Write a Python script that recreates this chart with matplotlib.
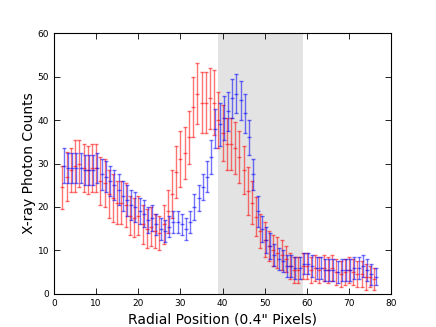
import numpy as np
import matplotlib
matplotlib.use('Agg')
import matplotlib.pyplot as plt

# radial bins (0.4" pixels)
radius = np.arange(2, 77)

red_counts = [24.5, 27, 28.5, 29.5, 30, 29, 28.5, 29, 29, 26, 25.5, 23, 22, 21, 21, 20.5,
              18, 17.5, 18, 16, 15, 15.5, 14.5, 14, 16, 19, 23, 28, 31, 32.5, 36, 43,
              46, 44, 44, 45, 44, 40, 37, 34.5, 34.5, 33.5, 31.5, 28.5, 23.7, 21, 17.8,
              14.5, 12.5, 11, 10, 9.5, 9, 8, 6.5, 5.5, 5.5, 6.5, 6.5, 5.5, 6, 5.5, 6,
              5.5, 6, 5, 4.5, 5, 5.5, 5, 4.5, 4.5, 4, 4, 3.5]
red_err = [5, 5.7, 5, 6, 5.5, 5.5, 5.5, 5.5, 5.5, 5.5, 5.5, 5.5, 5.5, 5, 5, 5,
           4.5, 4.5, 4.5, 4.5, 4.5, 4.5, 4, 4, 4.5, 5, 5.5, 6, 6.5, 6, 6, 7,
           7, 7, 7, 7, 7.5, 6.5, 6.5, 6, 6, 6, 6, 5.5, 5.5, 5, 4.5,
           4, 4, 3.5, 3.5, 3.5, 3.5, 3, 3, 3, 3, 3, 3, 3, 3, 3, 3,
           3, 3, 3, 3, 3, 3, 3, 3, 3, 3, 2.5, 2.5]

blue_counts = [29.5, 29, 29, 29, 29, 28.5, 28.5, 28.5, 29, 27.5, 27, 26, 25, 24, 22.5,
               21.5, 20.5, 20, 19, 18.5, 17, 17.5, 16, 15, 14.5, 15.5, 16.5, 16.5, 16,
               15, 16.5, 20, 22, 24.5, 27, 31.5, 38, 39, 40.5, 42, 45, 46, 44.5, 41.5,
               36, 27.5, 19, 15, 12.5, 11, 9, 8, 7.5, 6.5, 6.5, 6, 6, 7, 7, 6.5, 6, 6,
               5.5, 5.5, 5.5, 5, 5.5, 5.5, 5.5, 6, 6, 6.5, 5.5, 4.5, 4]
blue_err = [4, 3.5, 3.5, 3.5, 3.5, 3.5, 3.5, 3.5, 3.5, 3.5, 3.5, 3.5, 3.5, 3.5, 3.5,
            3.5, 3.5, 3.5, 3, 3, 3, 3, 2.5, 2.5, 2.5, 2.5, 2.5, 2.5, 2.5,
            2.5, 2.5, 3, 3, 3, 3.5, 4, 4.5, 5, 5, 4.5, 4.5, 4.5, 4.5, 4.5,
            4, 3.5, 3.5, 3, 3, 3, 2.5, 2.5, 2.5, 2.5, 2.5, 2.5, 2.5, 2.5, 2.5, 2.5, 2.5, 2.5,
            2.5, 2.5, 2.5, 2.5, 2.5, 2.5, 2.5, 2.5, 2.5, 2.5, 2.5, 2.5, 2]

span_lo, span_hi = 39, 59

plt.rcParams['xtick.direction'] = 'in'
plt.rcParams['ytick.direction'] = 'in'
plt.rcParams['xtick.top'] = True
plt.rcParams['ytick.right'] = True

fig = plt.figure(figsize=(4.36, 3.27), dpi=100)
ax = fig.add_axes([0.124, 0.101, 0.773, 0.798])

ax.axvspan(span_lo, span_hi, color='#e3e3e3', zorder=0, lw=0)

ax.errorbar(radius, red_counts, yerr=red_err, fmt='_', color='red', ms=3, mew=1,
            alpha=0.55, elinewidth=1, capsize=1.5, capthick=1)
ax.errorbar(radius + 0.3, blue_counts, yerr=blue_err, fmt='_', color='blue', ms=3, mew=1,
            alpha=0.55, elinewidth=1, capsize=1.5, capthick=1)

ax.set_xlim(0, 80)
ax.set_ylim(0, 60)
ax.tick_params(labelsize=6.5, length=4, width=0.6)
for s in ax.spines.values():
    s.set_linewidth(0.8)

ax.set_xlabel('Radial Position (0.4" Pixels)', fontsize=10, labelpad=3)
ax.set_ylabel('X-ray Photon Counts', fontsize=10, labelpad=1)

fig.savefig('out.png', dpi=100)
